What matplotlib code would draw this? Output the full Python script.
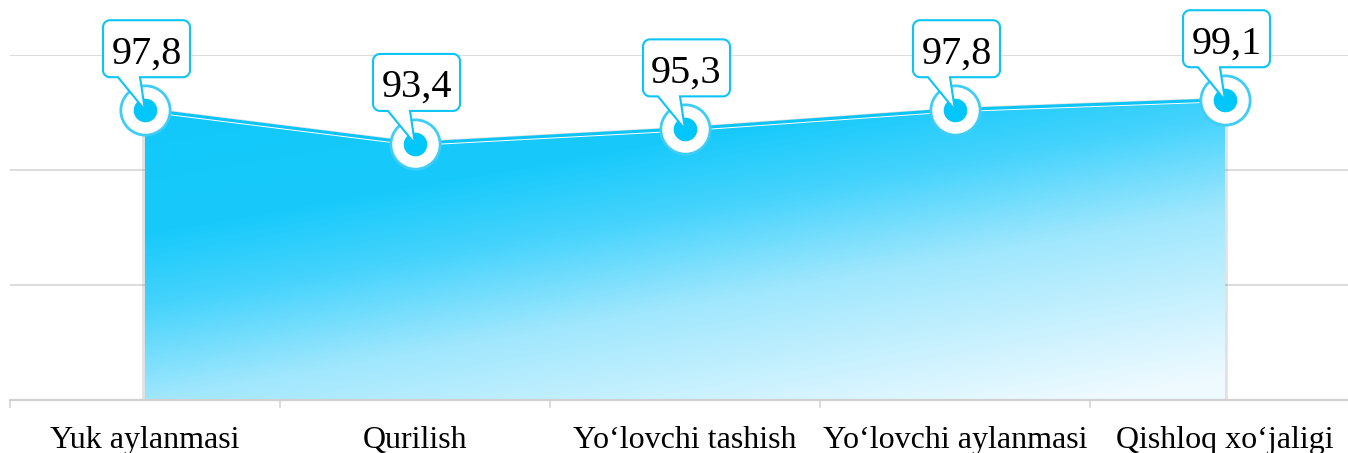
import numpy as np
import matplotlib
matplotlib.use("Agg")
import matplotlib.pyplot as plt
import matplotlib.transforms as mtransforms
from matplotlib.path import Path
from matplotlib.patches import PathPatch, Polygon
from matplotlib.colors import LinearSegmentedColormap

categories = ["Yuk aylanmasi", "Qurilish", "Yo\u2018lovchi tashish",
              "Yo\u2018lovchi aylanmasi", "Qishloq xo\u2018jaligi"]
values = [97.8, 93.4, 95.3, 97.8, 99.1]
y_min, y_max, y_step = 60, 105, 15

cyan = "#0DC4F6"
grid_col = "#D9D9D9"
serif = "Liberation Serif"


def callout_path(w=87, h=57, gap=33, r=7, cx=1.5, b0=-27, b1=-5):
    # rounded box with a pointer, in pixels relative to the point
    L, R, B, T = cx - w / 2, cx + w / 2, gap, gap + h

    def arc(xc, yc, a0, a1):
        a = np.linspace(np.radians(a0), np.radians(a1), 8)
        return list(zip(xc + r * np.cos(a), yc + r * np.sin(a)))

    v = [(b1, B), (R - r, B)]
    v += arc(R - r, B + r, -90, 0)
    v += arc(R - r, T - r, 0, 90)
    v += arc(L + r, T - r, 90, 180)
    v += arc(L + r, B + r, 180, 270)
    v += [(b0, B), (0, 0), (b1, B)]
    return Path(v + [v[0]], closed=True)


fig = plt.figure(figsize=(13.48, 4.53), dpi=100)
ax = fig.add_axes([10 / 1348, 53 / 453, 1350 / 1348, 345 / 453])
ax.set_xlim(-0.5, len(categories) - 0.5)
ax.set_ylim(y_min, y_max)

x = np.arange(len(values))
y = np.array(values)

# grid
ax.set_yticks(np.arange(y_min, y_max + 1, y_step))
ax.yaxis.grid(True, color=grid_col, lw=1.3)
ax.set_axisbelow(True)
ax.tick_params(axis="y", left=False, labelleft=False)
for s in ["left", "right", "top"]:
    ax.spines[s].set_visible(False)
ax.spines["bottom"].set_color("#D0D0D0")
ax.spines["bottom"].set_linewidth(1.6)

ax.set_xticks(x)
ax.set_xticklabels(categories, fontfamily=serif, fontsize=23)
ax.set_xticks(np.arange(-0.5, len(categories)), minor=True)
ax.tick_params(axis="x", which="major", length=0, pad=19)
ax.tick_params(axis="x", which="minor", length=6, color=grid_col, width=1.3)

# area with gradient
verts = np.vstack([[x[0], y_min], np.column_stack([x, y]), [x[-1], y_min]])
shadow = Polygon(verts, closed=True, facecolor="none", edgecolor="#888888",
                 lw=4, alpha=0.25, zorder=1.5)
ax.add_patch(shadow)
area = Polygon(verts, closed=True, facecolor="none", edgecolor="none", zorder=2)
ax.add_patch(area)

cmap = LinearSegmentedColormap.from_list(
    "grad", [(0, "#10C8FA"), (0.3, "#18CAFB"), (0.45, "#45D3FC"),
             (0.65, "#A0E7FD"), (1, "#EEFAFF")])
yy, xx = np.mgrid[0:1:300j, 0:1:600j]
t = np.clip(0.65 * yy + 0.4 * xx, 0, 1)
img = ax.imshow(t, cmap=cmap, vmin=0, vmax=1, origin="upper", aspect="auto",
                extent=(x[0], x[-1], y_min, max(values) + 1),
                interpolation="bilinear", zorder=2)
img.set_clip_path(area)
ax.set_xlim(-0.5, len(categories) - 0.5)
ax.set_ylim(y_min, y_max)

# top line
ax.plot(x, y, color=cyan, lw=3, zorder=3, solid_capstyle="butt")
off = mtransforms.offset_copy(ax.transData, fig=fig, y=-1.5, units="dots")
ax.plot(x, y, color="white", lw=0.7, zorder=3.1, transform=off)

# markers
ax.plot(x, y, "o", ms=35.5, mfc="white", mec="#3FCDF5", mew=2, zorder=5)
ax.plot(x, y, "o", ms=17, mfc="#00C6FA", mec="none", zorder=6)

# callouts
p = callout_path()
for xi, yi in zip(x, y):
    tr = mtransforms.ScaledTranslation(xi, yi, ax.transData)
    patch = PathPatch(p, facecolor="white", edgecolor=cyan, lw=1.5,
                      transform=mtransforms.IdentityTransform() + tr,
                      clip_on=False, zorder=7)
    ax.add_patch(patch)
    ax.annotate(f"{yi:.1f}".replace(".", ","), xy=(xi, yi), xytext=(1.5, 47),
                textcoords="offset pixels", ha="center", va="baseline",
                fontfamily=serif, fontsize=29, color="black", zorder=8,
                annotation_clip=False)

fig.savefig("out.png", dpi=100)
